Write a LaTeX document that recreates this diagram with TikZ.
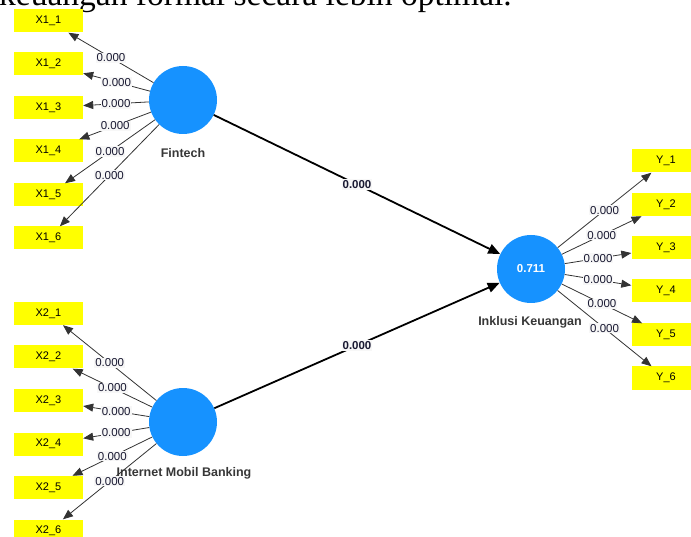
\documentclass[tikz,border=0pt]{standalone}
\usepackage{fontspec}
\setmainfont{Liberation Sans}
\newfontfamily\pageserif{Liberation Serif}
\usetikzlibrary{arrows.meta}
\usetikzlibrary{calc}
\definecolor{lvblue}{RGB}{22,146,255}
\definecolor{mvyellow}{RGB}{255,255,0}
\definecolor{lblgray}{RGB}{247,247,247}
\definecolor{lvtext}{RGB}{55,55,55}
\definecolor{numtext}{RGB}{25,25,50}

\tikzset{
  latent/.style={circle, fill=lvblue, minimum size=68pt, inner sep=0pt,
    text=white, font=\bfseries\fontsize{11.5}{11.5}\selectfont},
  manifest/.style={rectangle, fill=mvyellow, minimum width=69pt,
    minimum height=23pt, inner sep=0pt, font=\fontsize{11}{11}\selectfont},
  lvname/.style={text=lvtext, font=\bfseries\fontsize{12.5}{12.5}\selectfont},
  loading/.style={draw=black!80, line width=0.8pt,
    -{Triangle[length=10pt,width=8pt]}},
  structural/.style={draw=black, line width=1.8pt,
    -{Triangle[length=12pt,width=10pt]}},
  coef/.style={fill=lblgray, inner sep=1pt, text=numtext,
    font=\fontsize{11.5}{11.5}\selectfont},
}

\begin{document}
\begin{tikzpicture}[x=1pt,y=-1pt]

\path[use as bounding box] (0,0) rectangle (691,537);
\clip (0,0) rectangle (691,537);

% text line of the page above the figure
\node[anchor=base west, inner sep=0pt, font=\pageserif\fontsize{33.5}{40}\selectfont]
  (pagetext) at (-1,5.5) {keuangan formal secara lebih optimal.};

%---------------------------------------
% Latent variables
%---------------------------------------
\node[latent] (FT)  at (183,100) {};
\node[latent] (IMB) at (183,422) {};
\node[latent] (IK)  at (531,269) {0.711};

\node[lvname] (FTname)  at (183,153) {Fintech};
\node[lvname] (IMBname) at (184,473) {Internet Mobil Banking};
\node[lvname] (IKname)  at (530,322) {Inklusi Keuangan};

%---------------------------------------
% Indicators
%---------------------------------------
\foreach \i/\y in {1/21,2/64,3/107.5,4/151,5/195,6/238}
  \node[manifest] (x1\i) at (48.5,\y) {X1\_\i};
\foreach \i/\y in {1/313.5,2/357,3/400.5,4/444,5/487.5,6/531}
  \node[manifest] (x2\i) at (48.5,\y) {X2\_\i};
\foreach \i/\y in {1/161,2/204.5,3/247.5,4/291,5/335,6/378}
  \node[manifest] (y\i) at (666,\y) {Y\_\i};

%---------------------------------------
% Outer loadings
%---------------------------------------
\foreach \i in {1,...,6}{
  \draw[loading] (FT)  -- node[coef] {0.000} (x1\i);
  \draw[loading] (IMB) -- node[coef] {0.000} (x2\i);
  \draw[loading] (IK)  -- node[coef] {0.000} (y\i);
}

% Inner model
\draw[structural] (FT)  -- node[coef, font=\bfseries\fontsize{11.5}{11.5}\selectfont] {0.000} (IK);
\draw[structural] (IMB) -- node[coef, font=\bfseries\fontsize{11.5}{11.5}\selectfont] {0.000} (IK);

\end{tikzpicture}
\end{document}
